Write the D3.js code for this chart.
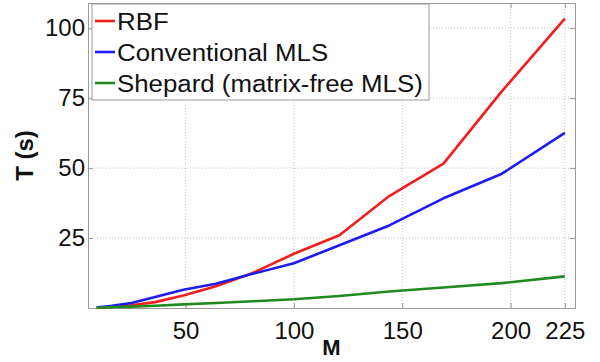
<!DOCTYPE html>
<html>
<head>
<meta charset="utf-8">
<script src="https://cdn.jsdelivr.net/npm/d3@7"></script>
<style>
  html, body { margin: 0; padding: 0; background: #fff; }
  svg { display: block; font-family: "Liberation Sans", Arial, Helvetica, sans-serif; }
</style>
</head>
<body>
<svg id="chart" width="600" height="362"></svg>
<script>
// Problem size M (number of nodes, square grids) and run time T in seconds
const M = [9, 16, 25, 36, 49, 64, 81, 100, 121, 144, 169, 196, 225];
const rbf = [0.1, 0.4, 1.0, 2.1, 4.5, 7.8, 12.5, 19.4, 26.0, 40.0, 51.6, 77.5, 103.4];
const mls = [0.2, 0.8, 1.8, 3.9, 6.5, 8.7, 12.2, 16.0, 22.4, 29.5, 39.2, 48.0, 62.6];
const shepard = [0.1, 0.3, 0.5, 0.8, 1.3, 1.8, 2.4, 3.1, 4.3, 5.9, 7.3, 8.9, 11.3];

const seriesNames = ["RBF", "Conventional MLS", "Shepard (matrix-free MLS)"];
const seriesColors = ["#f21d1d", "#1c1cf0", "#1f8a1f"];
const xTicks = [50, 100, 150, 200, 225];
const yTicks = [25, 50, 75, 100];

const svg = d3.select("#chart");
const W = 600, H = 362;
const margin = { left: 88, right: 25, top: 3, bottom: 54 };
const iw = W - margin.left - margin.right;
const ih = H - margin.top - margin.bottom;

const x = d3.scaleLinear().domain([5, 229.7]).range([0, iw]);
const y = d3.scaleLinear().domain([0, 109]).range([ih, 0]);

const g = svg.append("g").attr("transform", `translate(${margin.left},${margin.top})`);

// dotted grid
g.append("g").selectAll("line").data(xTicks).join("line")
  .attr("x1", d => x(d)).attr("x2", d => x(d))
  .attr("y1", 0).attr("y2", ih)
  .attr("stroke", "#c4c4c4").attr("stroke-width", 1).attr("stroke-dasharray", "1,2");
g.append("g").selectAll("line").data(yTicks).join("line")
  .attr("x1", 0).attr("x2", iw)
  .attr("y1", d => y(d)).attr("y2", d => y(d))
  .attr("stroke", "#c4c4c4").attr("stroke-width", 1).attr("stroke-dasharray", "1,2");

// axes with inward ticks
const tickFont = "24px";
const xAxis = g.append("g").attr("transform", `translate(0,${ih})`)
  .call(d3.axisBottom(x).tickValues(xTicks).tickSize(-5).tickPadding(14).tickFormat(d3.format("d")));
const xAxisTop = g.append("g")
  .call(d3.axisTop(x).tickValues(xTicks).tickSize(-5).tickFormat(""));
const yAxis = g.append("g")
  .call(d3.axisLeft(y).tickValues(yTicks).tickSize(-5).tickPadding(3).tickFormat(d3.format("d")));
const yAxisRight = g.append("g").attr("transform", `translate(${iw},0)`)
  .call(d3.axisRight(y).tickValues(yTicks).tickSize(-5).tickFormat(""));

[xAxis, xAxisTop, yAxis, yAxisRight].forEach(a => {
  a.select(".domain").attr("stroke", "#9a9a9a");
  a.selectAll(".tick line").attr("stroke", "#9a9a9a");
  a.selectAll("text").attr("font-size", tickFont).attr("fill", "#111")
    .attr("font-family", "Liberation Sans, Arial, sans-serif");
});

// series lines
const data = [rbf, mls, shepard];
const line = d3.line().x((d, i) => x(M[i])).y(d => y(d));
g.append("g").selectAll("path").data(data).join("path")
  .attr("d", d => line(d))
  .attr("fill", "none")
  .attr("stroke", (d, i) => seriesColors[i])
  .attr("stroke-width", 2.6)
  .attr("stroke-linejoin", "round");

// axis titles
svg.append("text")
  .attr("x", margin.left + iw / 2).attr("y", 355)
  .attr("text-anchor", "middle")
  .attr("font-size", "22px").attr("font-weight", "bold").attr("fill", "#111")
  .text("M");
svg.append("text")
  .attr("transform", `translate(33,${margin.top + ih / 2}) rotate(-90)`)
  .attr("text-anchor", "middle")
  .attr("font-size", "24px").attr("font-weight", "bold").attr("fill", "#111")
  .text("T (s)");

// legend
const lg = svg.append("g");
lg.append("rect")
  .attr("x", 92).attr("y", 4).attr("width", 337).attr("height", 96)
  .attr("fill", "#fff").attr("stroke", "#9a9a9a").attr("stroke-width", 1);
seriesNames.forEach((name, i) => {
  const by = 30 + i * 31;
  lg.append("line")
    .attr("x1", 95).attr("x2", 115)
    .attr("y1", by - 9).attr("y2", by - 9)
    .attr("stroke", seriesColors[i]).attr("stroke-width", 2.6);
  // slightly wide lettering in the legend
  lg.append("text")
    .attr("transform", `translate(117,${by}) scale(1.055,1)`)
    .attr("font-size", "24.5px").attr("fill", "#111")
    .text(name);
});
</script>
</body>
</html>
